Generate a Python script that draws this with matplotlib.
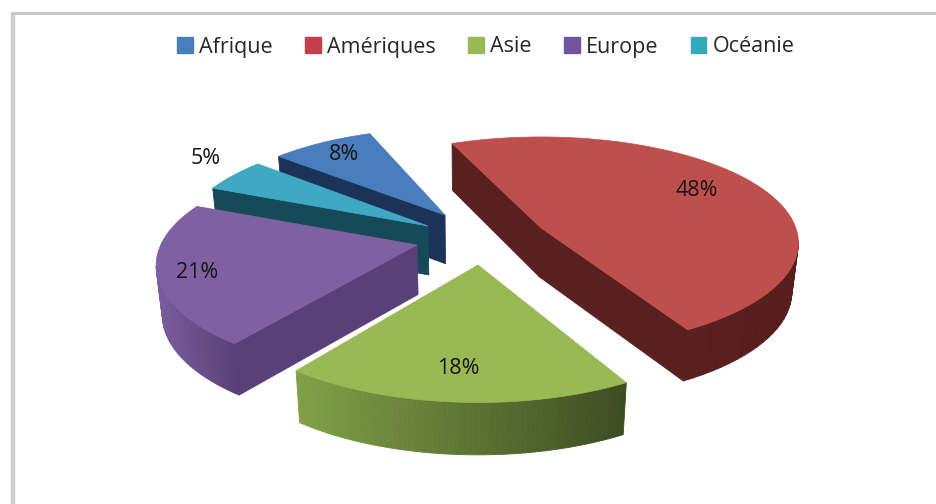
import numpy as np
import matplotlib
matplotlib.use("Agg")
import matplotlib.pyplot as plt
from matplotlib.patches import Patch, Polygon

continents = ["Afrique", "Amériques", "Asie", "Europe", "Océanie"]
shares = [8, 48, 18, 21, 5]

top_colors = ["#4a7dbd", "#bf4f4c", "#98b954", "#7f61a3", "#3fa9c4"]
legend_colors = ["#4a7ebb", "#c43f4a", "#98b954", "#7153a0", "#35a8bd"]
radial_colors = ["#1b3359", "#5a1f1f", "#55692c", "#5a4078", "#174a58"]
rim_colors = [("#1b3359", "#1b3359"), ("#5a1f1f", "#571d1d"),
              ("#80a047", "#3d4d22"), ("#7a5c9e", "#5a4078"), ("#174a58", "#174a58")]

# Where each exploded slice's tip lands on the canvas (pixels)
tips = [(445, 215), (541, 228), (478, 265), (417, 245), (428, 226)]
label_xy = [(344, 155), (697, 190), (458, 369), (197, 272), (206, 158)]

# Per-slice tweaks of the projection, in the order of the continents
scale_x = [0.98, 1.01, 0.96, 0.985, 0.985]
scale_y = [0.96, 0.96, 0.96, 0.95, 1.0]
persp = [0.18, 0.14, 0.18, 0.18, 0.18]
twist = [0.0, -2.0, 0.0, 1.0, 0.0]

FIRST_ANGLE = -50.0
RX, RY = 252.0, 108.0
MID_Y = 227.0
DEPTH, CONVERGE, VANISH_X = 49.0, 0.02, 470.0


def project(i, angle_deg):
    a = np.radians(angle_deg + twist[i])
    xm, ym = np.sin(a), -np.cos(a)
    rx, ry = RX * scale_x[i], RY * scale_y[i]
    off = (tips[i][1] - MID_Y) / ry
    w = 1.0 - persp[i] * (ym + off)
    return tips[i][0] + rx * xm / w, tips[i][1] + ry * ym / w, ym + off


def lower(x, y, ypos):
    return x - (x - VANISH_X) * CONVERGE, y + DEPTH * (1 + 0.05 * ypos)


def hex_rgb(c):
    return np.array(matplotlib.colors.to_rgb(c))


fig = plt.figure(figsize=(9.36, 5.04), dpi=100, facecolor="white")
ax = fig.add_axes([0, 0, 1, 1])
ax.set_xlim(0, 936)
ax.set_ylim(504, 0)
ax.axis("off")

# Chart frame: only its left and top sides are in view
ax.plot([13, 13], [504, 12], color="#cfcfcf", lw=3.2, solid_capstyle="butt")
ax.plot([11, 936], [13, 13], color="#c4c4c4", lw=2.0, solid_capstyle="butt")

bounds = FIRST_ANGLE + np.concatenate([[0], np.cumsum(shares)]) * 360.0 / sum(shares)
# Painter's order, back to front
for i in [0, 4, 1, 3, 2]:
    tip = tips[i]
    angs = np.linspace(bounds[i], bounds[i + 1], 70)
    arc = [project(i, a) for a in angs]
    ypos_tip = (tip[1] - MID_Y) / (RY * scale_y[i])
    outline = [(tip[0], tip[1], ypos_tip)] + arc
    n = len(outline)
    xs = np.array([p[0] for p in outline])
    ys = np.array([p[1] for p in outline])
    area = 0.5 * np.sum(xs * np.roll(ys, -1) - np.roll(xs, -1) * ys)

    walls = []
    for k in range(n):
        a, b = outline[k], outline[(k + 1) % n]
        dx = b[0] - a[0]
        # Outward normal's downward component decides whether this wall faces us
        normal_y = -dx if area > 0 else dx
        if normal_y <= 0:
            continue
        walls.append((a, b, k == 0 or k == n - 1))

    rim_xs = [w[0][0] for w in walls if not w[2]]
    x0, x1 = (min(rim_xs), max(rim_xs)) if rim_xs else (0, 1)
    c0, c1 = hex_rgb(rim_colors[i][0]), hex_rgb(rim_colors[i][1])
    for a, b, is_radial in walls:
        if is_radial:
            col = radial_colors[i]
        else:
            t = np.clip((a[0] - x0) / max(x1 - x0, 1), 0, 1)
            col = tuple(c0 + (c1 - c0) * t)
        la, lb = lower(*a), lower(*b)
        ax.add_patch(Polygon([a[:2], b[:2], lb, la], closed=True, facecolor=col,
                             edgecolor=col, lw=0.6, zorder=2))

    ax.add_patch(Polygon(np.column_stack([xs, ys]), closed=True, facecolor=top_colors[i],
                         edgecolor=top_colors[i], lw=0.5, zorder=2))

for share, (lx, ly) in zip(shares, label_xy):
    ax.text(lx, ly, f"{share}%", ha="center", va="center", fontsize=15.5,
            family="Open Sans", color="#151515", zorder=5)

handles = [Patch(facecolor=c, edgecolor=c) for c in legend_colors]
ax.legend(handles, continents, ncol=5, loc="center", bbox_to_anchor=(486 / 936, 1 - 47 / 504),
          frameon=False, prop={"family": "Open Sans", "size": 15.5}, handlelength=0.72,
          handleheight=0.72, handletextpad=0.3, columnspacing=1.5, labelcolor="#262626")

fig.savefig("out.png", dpi=100, facecolor="white")
